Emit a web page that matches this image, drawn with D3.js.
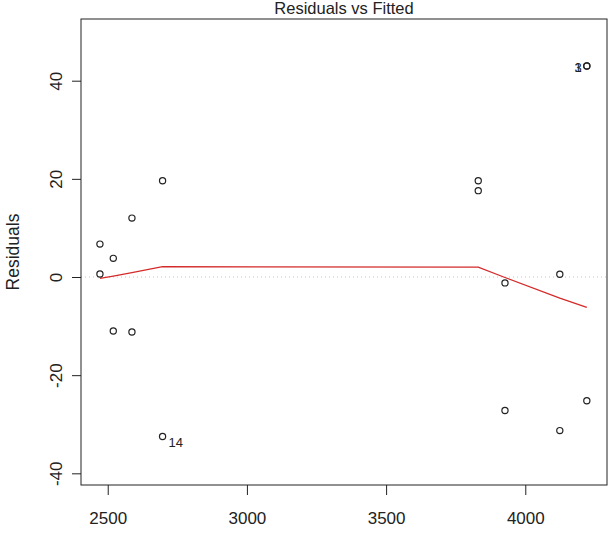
<!DOCTYPE html>
<html>
<head>
<meta charset="utf-8">
<script src="https://cdn.jsdelivr.net/npm/d3@7"></script>
<style>
  body { margin: 0; background: #fff; }
  svg { display: block; font-family: "Liberation Sans", Arial, sans-serif; }
</style>
</head>
<body>
<svg id="chart" width="612" height="536"></svg>
<script>
// fitted values and residuals
const fitted = [2472, 2472, 2520, 2520, 2587, 2587, 2697, 2697,
                3831, 3831, 3927, 3927, 4124, 4124, 4221, 4221, 4221];
const residuals = [6.7, 0.6, 3.8, -11.0, 12.0, -11.2, 19.6, -32.5,
                   19.6, 17.6, -1.2, -27.2, 0.55, -31.3, -25.2, 43.0, 43.0];
const obsIds = [2, 4, 5, 6, 7, 8, 9, 14, 10, 11, 12, 13, 15, 16, 17, 1, 3];
const labelled = [14, 3, 1];

// lowess smooth at the distinct fitted values
const smoothX = [2472, 2520, 2587, 2697, 3831, 3927, 4124, 4221];
const smoothY = [-0.3, 0.2, 0.9, 2.1, 2.0, -0.1, -4.3, -6.2];

const xTicks = [2500, 3000, 3500, 4000];
const yTicks = [-40, -20, 0, 20, 40];
const title = "Residuals vs Fitted";
const yLabel = "Residuals";

const svg = d3.select("#chart");
const plotL = 81, plotR = 607, plotT = 19, plotB = 485;

const x = d3.scaleLinear().domain([2404, 4293.5]).range([plotL, plotR]);
const y = d3.scaleLinear().domain([-42.38, 52.57]).range([plotB, plotT]);

const ink = "#222";
const fmt = (d) => String(d);

// zero reference line
svg.append("line")
  .attr("x1", plotL).attr("x2", plotR)
  .attr("y1", y(0)).attr("y2", y(0))
  .attr("stroke", "#c4c4c4")
  .attr("stroke-width", 1)
  .attr("stroke-dasharray", "1,3");

// smooth line
const line = d3.line().x((d) => x(d[0])).y((d) => y(d[1]));
svg.append("path")
  .datum(d3.zip(smoothX, smoothY))
  .attr("d", line)
  .attr("fill", "none")
  .attr("stroke", "#d42a2a")
  .attr("stroke-width", 1.3);

// points
const pts = d3.zip(fitted, residuals, obsIds);
svg.append("g")
  .selectAll("circle")
  .data(pts)
  .join("circle")
  .attr("cx", (d) => x(d[0]))
  .attr("cy", (d) => y(d[1]))
  .attr("r", 3.1)
  .attr("fill", "none")
  .attr("stroke", ink)
  .attr("stroke-width", 1.2);

// labels of the most extreme residuals
const midX = (x.domain()[0] + x.domain()[1]) / 2;
svg.append("g")
  .selectAll("text")
  .data(pts.filter((d) => labelled.includes(d[2])))
  .join("text")
  .attr("x", (d) => x(d[0]) + (d[0] < midX ? 6 : -5))
  .attr("y", (d) => y(d[1]) + (d[0] < midX ? 10.5 : 6))
  .attr("text-anchor", (d) => (d[0] < midX ? "start" : "end"))
  .attr("font-size", 13)
  .attr("fill", ink)
  .text((d) => d[2]);

// axes
const xAxis = svg.append("g")
  .attr("transform", `translate(0,${plotB})`)
  .call(d3.axisBottom(x).tickValues(xTicks).tickSize(10).tickPadding(17).tickFormat(fmt));
xAxis.select(".domain").remove();
xAxis.selectAll("line").attr("stroke", ink);
xAxis.selectAll("text").attr("font-size", 17).attr("fill", ink)
  .attr("font-family", "Liberation Sans, Arial, sans-serif");

const yAxis = svg.append("g")
  .attr("transform", `translate(${plotL},0)`)
  .call(d3.axisLeft(y).tickValues(yTicks).tickSize(9).tickFormat(fmt));
yAxis.select(".domain").remove();
yAxis.selectAll("line").attr("stroke", ink);
yAxis.selectAll("text")
  .attr("x", null).attr("dy", null)
  .attr("transform", "translate(-19,0) rotate(-90)")
  .attr("text-anchor", "middle")
  .attr("font-size", 17).attr("fill", ink)
  .attr("font-family", "Liberation Sans, Arial, sans-serif");

// plot box
svg.append("rect")
  .attr("x", plotL).attr("y", plotT)
  .attr("width", plotR - plotL).attr("height", plotB - plotT)
  .attr("fill", "none")
  .attr("stroke", ink)
  .attr("stroke-width", 1);

// title and y label
svg.append("text")
  .attr("x", (plotL + plotR) / 2).attr("y", 14)
  .attr("text-anchor", "middle")
  .attr("font-size", 16.5)
  .attr("fill", ink)
  .text(title);

svg.append("text")
  .attr("transform", `translate(18.5,${(plotT + plotB) / 2}) rotate(-90)`)
  .attr("text-anchor", "middle")
  .attr("font-size", 17.5)
  .attr("fill", ink)
  .text(yLabel);
</script>
</body>
</html>
